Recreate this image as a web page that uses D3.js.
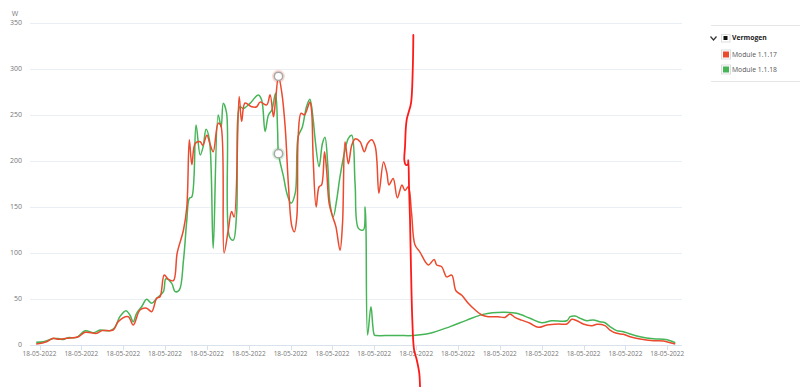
<!DOCTYPE html>
<html lang="nl">
<head>
  <meta charset="UTF-8">
  <title>Vermogen</title>
  <script src="https://d3js.org/d3.v7.min.js"></script>
  <style>
    html, body { margin: 0; padding: 0; background: #fff; }
    svg { font-family: "Open Sans", "Noto Sans", sans-serif; display: block; }
  </style>
</head>
<body>
<div id="chart"></div>
<script>
// time of day in hours, value in W
const redTimes = [5.92, 6.17, 6.33, 6.45, 6.65, 6.93, 7.09, 7.37, 7.49, 7.76, 7.88, 8.12, 8.24, 8.40, 8.56, 8.68, 8.80, 8.88, 8.98, 9.08,
  9.20, 9.29, 9.44, 9.52, 9.58, 9.64, 9.72, 9.84, 9.90, 10.00, 10.07, 10.15, 10.27, 10.33, 10.41, 10.51, 10.59, 10.65, 10.77, 10.83,
  10.91, 11.07, 11.19, 11.27, 11.43, 11.51, 11.59, 11.64, 11.71, 11.79, 11.87, 11.95, 12.03, 12.09, 12.15, 12.18, 12.25, 12.33, 12.46, 12.50,
  12.54, 12.61, 12.68, 12.74, 12.81, 12.86, 12.92, 13.00, 13.08, 13.18, 13.24, 13.30, 13.38, 13.46, 13.54, 13.66, 13.76, 13.84, 13.94, 14.02,
  14.06, 14.11, 14.22, 14.30, 14.35, 14.45, 14.55, 14.66, 14.73, 14.81, 14.89, 14.97, 15.09, 15.29, 15.43, 15.49, 15.61, 15.73, 15.85, 15.95,
  16.09, 16.25, 16.41, 16.57, 16.72, 16.96, 17.12, 17.24, 17.36, 17.52, 17.72, 17.92, 18.12, 18.40, 18.60, 18.72, 18.84, 18.99, 19.20, 19.32,
  19.51, 19.63, 19.79, 19.95, 20.11, 20.35, 20.67, 20.91, 21.07, 21.19];
const redValues = [1, 3.6, 7.3, 6.2, 7.3, 9, 13.8, 12.7, 15.6, 16.3, 25.4, 30.8, 21.7, 38, 40, 36.2, 50.8, 52.5, 76, 71.4,
  70, 100, 125, 150, 223, 196, 219, 221, 217, 228, 219, 210, 241, 239, 100, 125, 145, 139, 270, 243,
  263, 259, 259, 264, 261, 272, 248, 266, 292, 274, 237, 172, 129, 123, 140, 226, 252, 250, 264, 255,
  201, 150, 172, 174, 210, 190, 154, 140, 129, 103, 132, 221, 197, 217, 224, 221, 210, 219, 223, 216,
  201, 165, 199, 187, 174, 181, 160, 174, 168, 172, 143, 109, 101, 87, 93, 87, 85, 74, 76, 59,
  54, 45, 38, 32.6, 30.8, 30.8, 30, 33.7, 30, 27, 23.6, 19.2, 21.7, 22.8, 22.8, 27.9, 26.4, 22.8, 21, 22.5,
  21, 16.3, 12.7, 11.6, 9, 6.5, 4.7, 4.3, 2.5, 1];

const greenTimes = [5.92, 6.09, 6.33, 6.45, 6.57, 6.68, 6.89, 7.09, 7.29, 7.45, 7.68, 7.80, 7.92, 8.07, 8.16, 8.24, 8.32, 8.44, 8.56, 8.68,
  8.80, 8.96, 9.02, 9.16, 9.24, 9.34, 9.44, 9.52, 9.58, 9.64, 9.74, 9.84, 9.91, 9.98, 10.06, 10.15, 10.27, 10.34, 10.39, 10.47,
  10.54, 10.63, 10.71, 10.79, 10.87, 11.03, 11.23, 11.31, 11.39, 11.47, 11.55, 11.64, 11.69, 11.71, 11.83, 11.91, 12.01, 12.11, 12.18, 12.28,
  12.38, 12.46, 12.54, 12.58, 12.68, 12.76, 12.82, 12.89, 12.94, 13.02, 13.10, 13.18, 13.30, 13.38, 13.46, 13.54, 13.62, 13.74, 13.78, 13.80,
  13.84, 13.92, 14.00, 14.04, 14.38, 14.61, 14.93, 15.33, 15.81, 16.21, 16.60, 17.08, 17.40, 17.72, 18.00, 18.24, 18.60, 18.68, 18.80, 18.92,
  19.08, 19.23, 19.39, 19.51, 19.63, 19.79, 19.95, 20.11, 20.35, 20.67, 20.91, 21.07, 21.19];
const greenValues = [3, 3.6, 7, 7, 6, 8, 8.3, 15.5, 13.4, 16.3, 15.5, 19, 30.8, 37.3, 32.6, 25.3, 34.4, 41.6, 49.7, 45.3,
  50.8, 58, 72, 67, 58, 59.8, 92, 136, 159.5, 161, 239, 206.5, 215.6, 234.4, 223, 105, 250, 237, 262.7, 252,
  117.7, 114, 143, 259, 257, 262.7, 271.7, 266, 232, 250, 255.4, 273.6, 232, 208, 183, 165, 154, 165, 226.4, 237,
  259, 267, 244.6, 226, 193.8, 219, 225.7, 193.8, 154, 139.5, 157.6, 183, 212, 224.7, 228, 175.7, 126.8, 125, 150, 128.6,
  10.9, 41.6, 10.9, 10.3, 10.3, 10.3, 10.3, 12.7, 20, 27, 33.3, 35.5, 34.4, 29, 24.2, 26.4, 26.4, 30.8, 31.5, 29,
  26.4, 27.2, 25.3, 24.2, 19.9, 15.6, 14.5, 12, 9, 6.8, 6.2, 4.7, 2.5];

// hand drawn red stroke across the chart
const strokeTimes = [14.932, 14.918, 14.877, 14.813, 14.774, 14.750, 14.734, 14.717, 14.750, 14.798, 14.813, 14.829, 14.853, 14.877, 14.908, 14.949, 15.013, 15.075, 15.092, 15.10];
const strokeValues = [337, 299, 263, 252, 245, 234, 216, 201, 196, 196, 201, 172, 136, 81.5, 27, -5, -16, -31, -45, -52];

const hoverTime = 11.71;
const tickHours = [6, 7, 8, 9, 10, 11, 12, 13, 14, 15, 16, 17, 18, 19, 20, 21];
const tickLabels = ["18-05-2022", "18-05-2022", "18-05-2022", "18-05-2022", "18-05-2022", "18-05-2022", "18-05-2022", "18-05-2022",
  "18-05-2022", "18-05-2022", "18-05-2022", "18-05-2022", "18-05-2022", "18-05-2022", "18-05-2022", "18-05-2022"];
const yTicks = [0, 50, 100, 150, 200, 250, 300, 350];
const seriesNames = ["Module 1.1.17", "Module 1.1.18"];
const seriesColors = ["#eb4a2e", "#45b556"];

const width = 800, height = 387;
const plotLeft = 30, plotRight = 682;

const svg = d3.select("#chart").append("svg")
  .attr("width", width)
  .attr("height", height);

const x = d3.scaleLinear().domain([6, 21]).range([39.5, 667.3]);
const y = d3.scaleLinear().domain([0, 350]).range([345, 23]);

// grid
svg.append("g")
  .selectAll("line")
  .data(yTicks.slice(1))
  .join("line")
  .attr("x1", plotLeft).attr("x2", plotRight)
  .attr("y1", d => y(d) + 0.5).attr("y2", d => y(d) + 0.5)
  .attr("stroke", "#e9eff5");

svg.append("g")
  .selectAll("text")
  .data(yTicks)
  .join("text")
  .attr("x", 22)
  .attr("y", d => y(d))
  .attr("dy", "0.35em")
  .attr("text-anchor", "end")
  .attr("fill", "#777")
  .style("font-size", "7px")
  .text(d => d);

svg.append("text")
  .attr("x", 15).attr("y", 14)
  .attr("dy", "0.35em")
  .attr("text-anchor", "middle")
  .attr("fill", "#777")
  .style("font-size", "7px")
  .text("W");

// x axis
const xAxis = svg.append("g").attr("transform", "translate(0,345)");
xAxis.append("line")
  .attr("x1", plotLeft).attr("x2", plotRight)
  .attr("y1", 0.5).attr("y2", 0.5)
  .attr("stroke", "#d8e2ec");
xAxis.selectAll(".tick")
  .data(tickHours)
  .join("line")
  .attr("x1", d => Math.round(x(d)) + 0.5).attr("x2", d => Math.round(x(d)) + 0.5)
  .attr("y1", 0).attr("y2", 5)
  .attr("stroke", "#d8e2ec");
xAxis.selectAll("text")
  .data(tickHours)
  .join("text")
  .attr("x", d => x(d))
  .attr("y", 9)
  .attr("dy", "0.35em")
  .attr("text-anchor", "middle")
  .attr("fill", "#777")
  .style("font-size", "6.5px")
  .text((d, i) => tickLabels[i]);

// series
const line = d3.line()
  .x(d => x(d[0]))
  .y(d => y(d[1]))
  .curve(d3.curveCatmullRom.alpha(0.5));

const greenData = d3.zip(greenTimes, greenValues);
const redData = d3.zip(redTimes, redValues);

svg.append("path")
  .datum(greenData)
  .attr("fill", "none")
  .attr("stroke", seriesColors[1])
  .attr("stroke-width", 1.5)
  .attr("d", line);

svg.append("path")
  .datum(redData)
  .attr("fill", "none")
  .attr("stroke", seriesColors[0])
  .attr("stroke-width", 1.5)
  .attr("d", line);

// hover markers
const hovered = [
  [redData.find(d => d[0] === hoverTime), seriesColors[0]],
  [greenData.find(d => d[0] === hoverTime), seriesColors[1]]
];
hovered.forEach(([p, c]) => {
  svg.append("circle")
    .attr("cx", x(p[0])).attr("cy", y(p[1]))
    .attr("r", 6.5)
    .attr("fill", c).attr("opacity", 0.2);
  svg.append("circle")
    .attr("cx", x(p[0])).attr("cy", y(p[1]))
    .attr("r", 4.2)
    .attr("fill", "#fff")
    .attr("stroke", "#a8a8a8")
    .attr("stroke-width", 1.5);
});

// freehand annotation
svg.append("path")
  .datum(d3.zip(strokeTimes, strokeValues))
  .attr("fill", "none")
  .attr("stroke", "#ff1a1a")
  .attr("stroke-width", 1.8)
  .attr("stroke-linecap", "round")
  .attr("d", line);

// legend panel
const legend = svg.append("g");
legend.append("line").attr("x1", 711).attr("x2", 800).attr("y1", 25.5).attr("y2", 25.5).attr("stroke", "#e6e6e6");
legend.append("line").attr("x1", 711).attr("x2", 800).attr("y1", 81.5).attr("y2", 81.5).attr("stroke", "#e6e6e6");
legend.append("path")
  .attr("d", "M710.5,36.5 L713.5,40 L716.5,36.5")
  .attr("fill", "none").attr("stroke", "#333").attr("stroke-width", 1.2);
legend.append("rect").attr("x", 721.5).attr("y", 34.5).attr("width", 8.5).attr("height", 7.5)
  .attr("fill", "#fff").attr("stroke", "#ddd");
legend.append("rect").attr("x", 723.5).attr("y", 36).attr("width", 4).attr("height", 4).attr("fill", "#111");
legend.append("text")
  .attr("x", 732).attr("y", 38)
  .attr("dy", "0.35em")
  .attr("fill", "#222")
  .style("font-size", "6.8px")
  .style("font-weight", "bold")
  .text("Vermogen");

seriesNames.forEach((name, i) => {
  const cy = 54.5 + i * 15;
  legend.append("rect").attr("x", 721.5).attr("y", cy - 4.5).attr("width", 9).attr("height", 9)
    .attr("fill", "#fff").attr("stroke", "#ddd");
  legend.append("rect").attr("x", 723).attr("y", cy - 3).attr("width", 6).attr("height", 6)
    .attr("fill", seriesColors[i]);
  legend.append("text")
    .attr("x", 732).attr("y", cy)
    .attr("dy", "0.35em")
    .attr("fill", "#555")
    .style("font-size", "6.8px")
    .text(name);
});
</script>
</body>
</html>
